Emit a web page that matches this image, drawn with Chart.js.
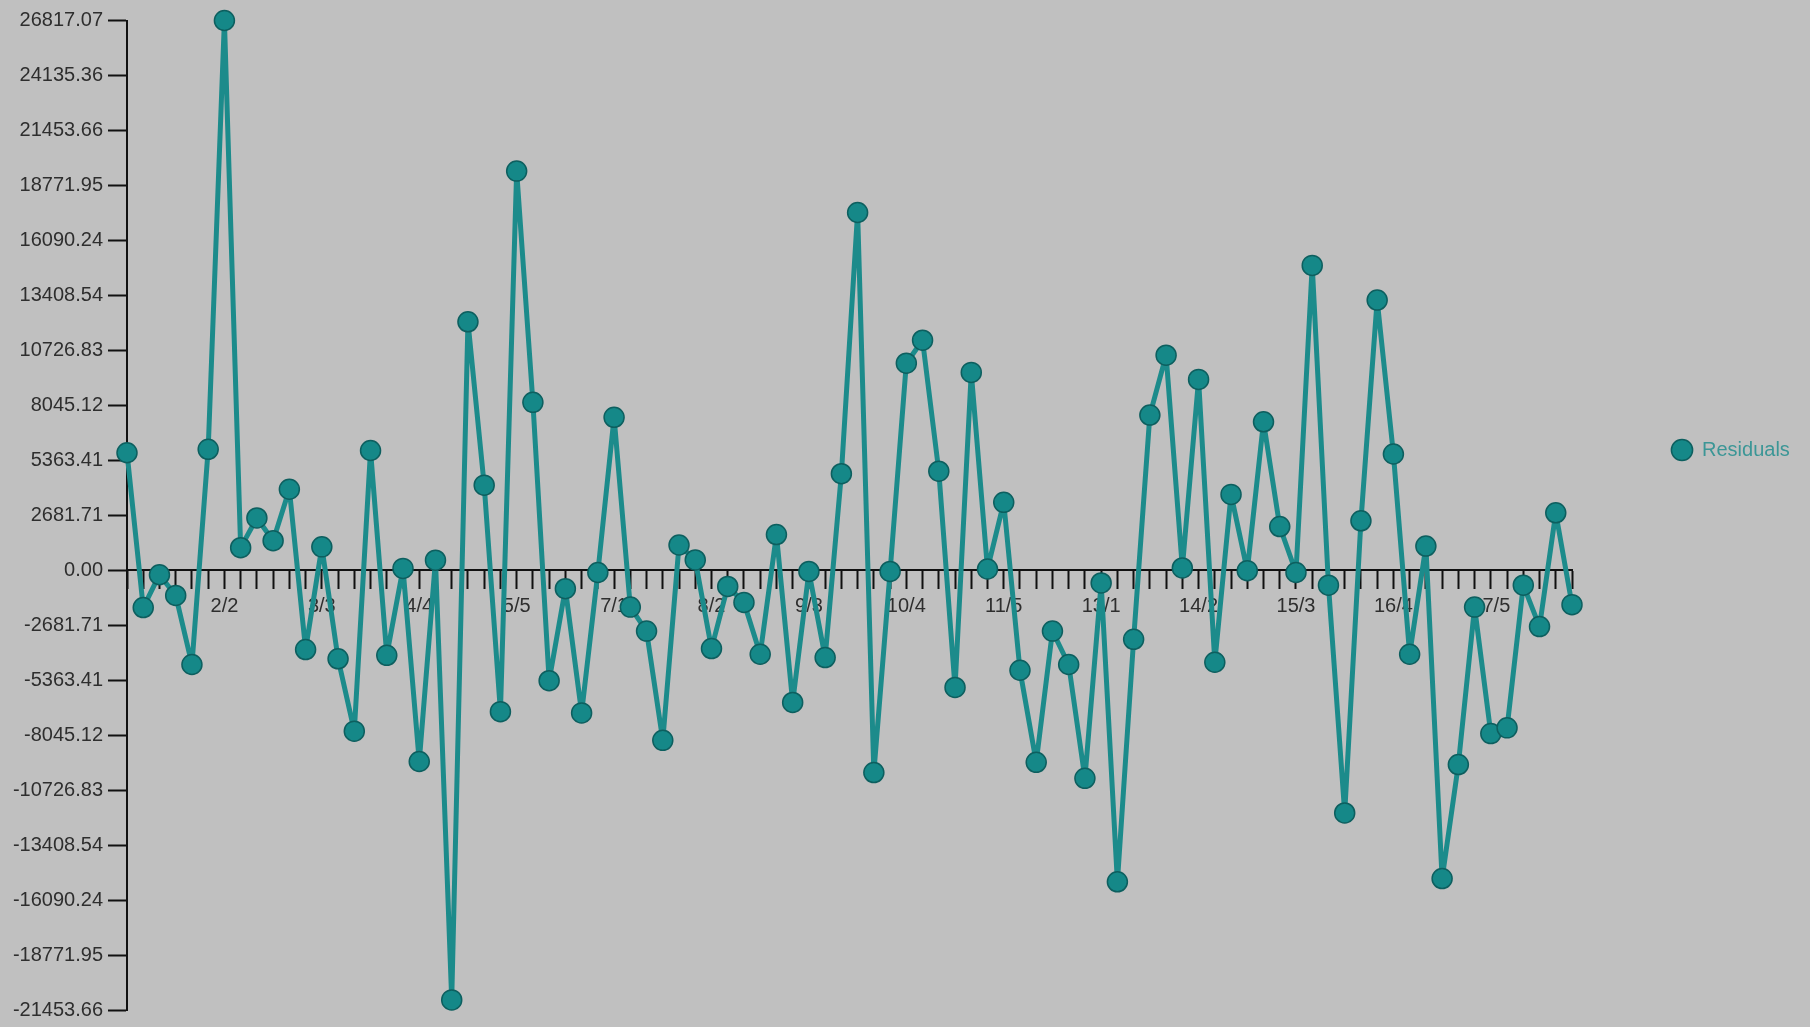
<!DOCTYPE html>
<html>
<head>
<meta charset="utf-8">
<script src="https://cdn.jsdelivr.net/npm/chart.js@4/dist/chart.umd.min.js"></script>
<style>
  html, body { margin: 0; padding: 0; background: #c0c0c0; }
  #wrap { width: 1810px; height: 1027px; position: relative; }
</style>
</head>
<body>
<div id="wrap"><canvas id="c"></canvas></div>
<script>
const categories = [
  '1/1','1/2','1/3','1/4','1/5','2/1','2/2','2/3','2/4','2/5',
  '3/1','3/2','3/3','3/4','3/5','4/1','4/2','4/3','4/4','4/5',
  '5/1','5/2','5/3','5/4','5/5','6/1','6/2','6/3','6/4','6/5',
  '7/1','7/2','7/3','7/4','7/5','8/1','8/2','8/3','8/4','8/5',
  '9/1','9/2','9/3','9/4','9/5','10/1','10/2','10/3','10/4','10/5',
  '11/1','11/2','11/3','11/4','11/5','12/1','12/2','12/3','12/4','12/5',
  '13/1','13/2','13/3','13/4','13/5','14/1','14/2','14/3','14/4','14/5',
  '15/1','15/2','15/3','15/4','15/5','16/1','16/2','16/3','16/4','16/5',
  '17/1','17/2','17/3','17/4','17/5','18/1','18/2','18/3','18/4','18/5'
];
const residuals = [
  5730, -1820, -220, -1230, -4600, 5900, 26817.07, 1100, 2550, 1440,
  3950, -3870, 1140, -4320, -7850, 5840, -4150, 90, -9330, 490,
  -20960, 12120, 4150, -6900, 19470, 8190, -5390, -900, -6960, -110,
  7460, -1800, -2970, -8300, 1230, 500, -3820, -790, -1570, -4100,
  1740, -6450, -60, -4260, 4710, 17450, -9870, -60, 10100, 11220,
  4830, -5720, 9650, 60, 3310, -4880, -9370, -2970, -4600, -10150,
  -620, -15200, -3370, 7570, 10490, 110, 9310, -4490, 3700, -20,
  7240, 2130, -110, 14870, -730, -11840, 2410, 13180, 5670, -4100,
  1180, -15040, -9480, -1800, -7970, -7690, -730, -2750, 2800, -1680
];
const xTickLabels = ['2/2','3/3','4/4','5/5','7/1','8/2','9/3','10/4','11/5','13/1','14/2','15/3','16/4','17/5'];
const yTickValues = [
  -21453.66, -18771.95, -16090.24, -13408.54, -10726.83, -8045.12, -5363.41, -2681.71, 0,
  2681.71, 5363.41, 8045.12, 10726.83, 13408.54, 16090.24, 18771.95, 21453.66, 24135.36, 26817.07
];
const seriesName = 'Residuals';

const FONT = { family: "'Liberation Sans', Arial, sans-serif", size: 20 };
const TEXT = '#2e2e2e';

const layoutPlugin = {
  id: 'layoutTweak',
  beforeLayout(chart) {
    const lg = chart.legend;
    if (lg && !lg._wrapped) {
      const orig = lg.fit;
      lg.fit = function () { orig.call(this); if (!this.isHorizontal()) this.width = 238; };
      lg._wrapped = true;
    }
  },
  afterLayout(chart) {
    const lg = chart.legend;
    if (!lg) return;
    const pad = lg.options.labels.padding;
    lg.left = 1672 - pad;
    lg.top = 440 - pad;
  }
};

new Chart(document.getElementById('c'), {
  type: 'line',
  data: {
    labels: categories,
    datasets: [{
      label: seriesName,
      data: residuals,
      borderColor: '#1c8b8b',
      backgroundColor: '#148787',
      borderWidth: 5,
      borderJoinStyle: 'round',
      borderCapStyle: 'round',
      tension: 0,
      pointRadius: 10,
      pointHoverRadius: 10,
      pointBackgroundColor: '#158888',
      pointBorderColor: '#0d5f5f',
      pointBorderWidth: 1.5,
      clip: false
    }]
  },
  options: {
    responsive: true,
    maintainAspectRatio: false,
    animation: false,
    layout: { padding: { top: 20.5, bottom: 15, left: 0, right: 0 } },
    plugins: {
      legend: {
        display: true,
        position: 'right',
        align: 'start',
        labels: {
          usePointStyle: true,
          pointStyle: 'circle',
          boxWidth: 20,
          boxHeight: 15,
          padding: 10,
          color: '#3b9696',
          font: FONT
        }
      },
      tooltip: { enabled: false }
    },
    scales: {
      x: {
        type: 'category',
        position: { y: 0 },
        offset: false,
        grid: {
          drawOnChartArea: false,
          drawTicks: true,
          tickLength: 18,
          tickWidth: 2,
          tickColor: '#111'
        },
        border: { display: true, color: '#111', width: 2 },
        ticks: {
          autoSkip: false,
          maxRotation: 0,
          minRotation: 0,
          padding: 6,
          color: TEXT,
          font: FONT,
          callback: function (value, index) {
            const lab = categories[index];
            return xTickLabels.includes(lab) ? lab : '';
          }
        }
      },
      y: {
        type: 'linear',
        position: 'left',
        min: yTickValues[0],
        max: yTickValues[yTickValues.length - 1],
        afterBuildTicks: function (scale) {
          scale.ticks = yTickValues.map(v => ({ value: v }));
        },
        afterFit: function (scale) { scale.width = 127; },
        grid: {
          drawOnChartArea: false,
          drawTicks: true,
          tickLength: 19,
          tickWidth: 2,
          tickColor: '#111'
        },
        border: { display: true, color: '#111', width: 2 },
        ticks: {
          padding: 5,
          color: TEXT,
          font: FONT,
          callback: function (value) { return Number(value).toFixed(2); }
        }
      }
    }
  },
  plugins: [layoutPlugin]
});
</script>
</body>
</html>
